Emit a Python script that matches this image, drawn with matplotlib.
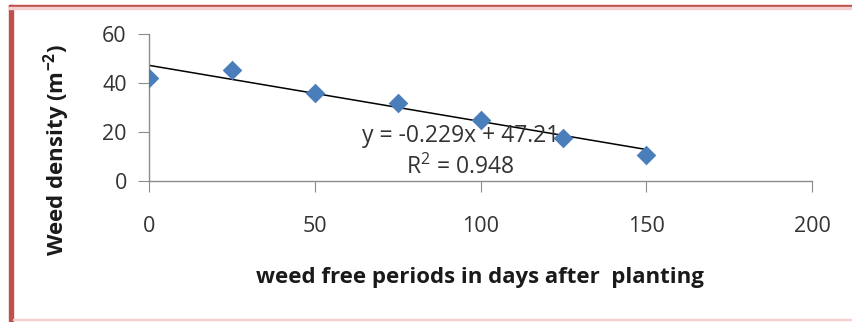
import matplotlib
matplotlib.use("Agg")
import matplotlib.pyplot as plt
from matplotlib.patches import Rectangle
import numpy as np

# Data
days = [0, 25, 50, 75, 100, 125, 150]
density = [42, 45.5, 36, 32, 25, 17.5, 10.5]
slope = -0.229
intercept = 47.21
r2 = 0.948
x_ticks = [0, 50, 100, 150, 200]
y_ticks = [0, 20, 40, 60]

plt.rcParams['font.family'] = ['Open Sans', 'DejaVu Sans']
plt.rcParams['mathtext.default'] = 'regular'

fig = plt.figure(figsize=(8.52, 3.22), dpi=100)
ax = fig.add_axes([149/852, 1-181/322, (812-149)/852, (181-34)/322])

ax.scatter(days, density, marker='D', s=100, color='#4a7ebb', zorder=3, linewidths=0)
fit_x = np.array([days[0], days[-1]])
ax.plot(fit_x, slope*fit_x + intercept, color='black', lw=1.1, zorder=2)

ax.set_xlim(0, 200)
ax.set_ylim(0, 60)
ax.set_xticks(x_ticks)
ax.set_yticks(y_ticks)
for s in ['top', 'right']:
    ax.spines[s].set_visible(False)
for s in ['left', 'bottom']:
    ax.spines[s].set_color('#8c8c8c')
    ax.spines[s].set_linewidth(1.0)
ax.tick_params(axis='both', direction='out', length=8, color='#8c8c8c', labelsize=15.5, labelcolor='#333333')
ax.tick_params(axis='x', pad=17)
ax.tick_params(axis='y', pad=8)

ax.text(94, 18.2, f"y = {slope}x + {intercept}", ha='center', va='center', fontsize=16.5, color='#333333')
ax.text(94, 5.4, f"R$^2$ = {r2}", ha='center', va='center', fontsize=16.5, color='#333333')

fig.text(480/852, 1-278/322, "weed free periods in days after  planting", ha='center', va='center',
         fontsize=16, fontweight='bold', color='#1a1a1a')
fig.text(57/852, 1-150/322, "Weed density (m$^{-2}$)", ha='center', va='center', rotation=90,
         fontsize=16, fontweight='bold', color='#1a1a1a')

# Border
fig.patches.append(Rectangle((9/852, 0), 4/852, 1-5/322, transform=fig.transFigure, color='#c0504d', zorder=0))
fig.patches.append(Rectangle((9/852, 1-7/322), 1-9/852, 2/322, transform=fig.transFigure, color='#c0504d', zorder=0))
fig.patches.append(Rectangle((9/852, 1-9/322), 1-9/852, 2/322, transform=fig.transFigure, color='#f2d0cf', zorder=0))
fig.patches.append(Rectangle((13/852, 1-320/322), 1-13/852, 1.5/322, transform=fig.transFigure, color='#f2d0cf', zorder=0))

fig.savefig("out.png", dpi=100)
